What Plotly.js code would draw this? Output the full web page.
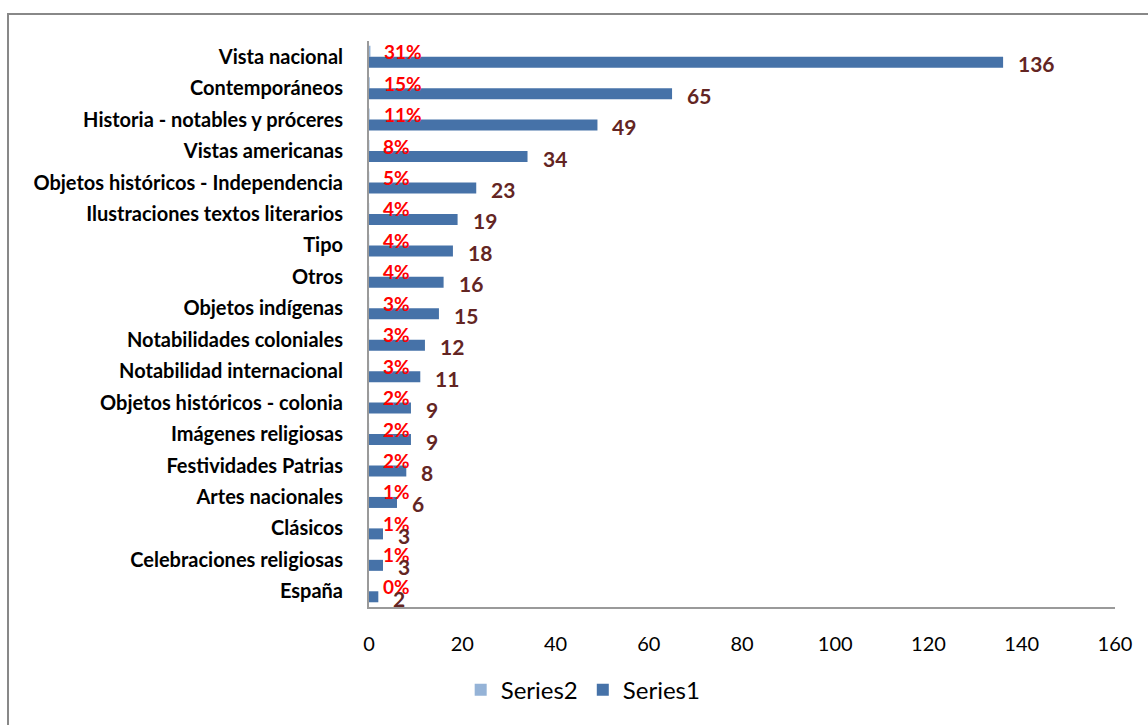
<!DOCTYPE html>
<html>
<head>
<meta charset="utf-8">
<script src="https://cdn.plot.ly/plotly-3.0.1.min.js"></script>
<style>
  html, body { margin: 0; padding: 0; background: #fff; }
  #chart { width: 1148px; height: 725px; }
</style>
</head>
<body>
<div id="chart"></div>
<script>
// Categories, top to bottom
const categories = [
  "Vista nacional",
  "Contemporáneos",
  "Historia - notables y próceres",
  "Vistas americanas",
  "Objetos históricos - Independencia",
  "Ilustraciones textos literarios",
  "Tipo",
  "Otros",
  "Objetos indígenas",
  "Notabilidades coloniales",
  "Notabilidad internacional",
  "Objetos históricos - colonia",
  "Imágenes religiosas",
  "Festividades Patrias",
  "Artes nacionales",
  "Clásicos",
  "Celebraciones religiosas",
  "España"
];

// Series1: counts per category
const series1 = [136, 65, 49, 34, 23, 19, 18, 16, 15, 12, 11, 9, 9, 8, 6, 3, 3, 2];

// Series2: share of the total per category
const series2 = [0.31, 0.15, 0.11, 0.08, 0.05, 0.04, 0.04, 0.04, 0.03, 0.03, 0.03, 0.02, 0.02, 0.02, 0.01, 0.01, 0.01, 0.00];

const xTicks = [0, 20, 40, 60, 80, 100, 120, 140, 160];

const FONT = "Lato, 'Open Sans', sans-serif";

const traces = [
  {
    type: "bar",
    orientation: "h",
    name: "Series2",
    y: categories,
    x: series2,
    marker: { color: "#95B3D7" },
    hoverinfo: "skip"
  },
  {
    type: "bar",
    orientation: "h",
    name: "Series1",
    y: categories,
    x: series1,
    marker: { color: "#4672A8" },
    hoverinfo: "skip"
  }
];

// Percentage labels (red) beside the Series2 bars, count labels (brown) beside the Series1 bars
const annotations = [];
categories.forEach((c, i) => {
  annotations.push({
    x: series2[i], y: c, xref: "x", yref: "y",
    text: Math.round(series2[i] * 100) + "%",
    showarrow: false, xanchor: "left", yanchor: "middle",
    xshift: 12, yshift: 5,
    font: { family: FONT, size: 19, color: "#FF0000", weight: "bold" }
  });
  annotations.push({
    x: series1[i], y: c, xref: "x", yref: "y",
    text: String(series1[i]),
    showarrow: false, xanchor: "left", yanchor: "middle",
    xshift: 13, yshift: -7,
    font: { family: FONT, size: 21, color: "#632523", weight: "bold" }
  });
});

const layout = {
  width: 1148,
  height: 725,
  margin: { l: 369, r: 33, t: 41, b: 118, autoexpand: false },
  paper_bgcolor: "#ffffff",
  plot_bgcolor: "#ffffff",
  barmode: "group",
  bargap: 0.3,
  bargroupgap: 0,
  showlegend: true,
  legend: {
    orientation: "h",
    xref: "container", yref: "container",
    x: 0.508, xanchor: "center",
    y: 0.048, yanchor: "middle",
    font: { family: FONT, size: 24, color: "#000" },
    itemwidth: 30
  },
  xaxis: {
    range: [0, 160],
    autorange: false,
    tickvals: xTicks,
    ticktext: xTicks.map(String),
    showgrid: false,
    zeroline: false,
    showline: true,
    linecolor: "#9a9a9a",
    linewidth: 2,
    ticks: "",
    ticklabelstandoff: 18,
    tickfont: { family: FONT, size: 20, color: "#000" },
    automargin: false,
    fixedrange: true
  },
  yaxis: {
    type: "category",
    categoryorder: "array",
    categoryarray: categories,
    range: [categories.length - 0.5, -0.5],
    autorange: false,
    showgrid: false,
    zeroline: false,
    showline: true,
    linecolor: "#9a9a9a",
    linewidth: 2,
    ticks: "",
    ticklabelstandoff: 20,
    tickfont: { family: FONT, size: 20, color: "#000", weight: "bold" },
    automargin: false,
    fixedrange: true
  },
  annotations: annotations,
  shapes: [
    {
      type: "rect", xref: "paper", yref: "paper",
      x0: -0.4839, x1: 1.07, y0: -0.25, y1: 1.0477,
      line: { color: "#888888", width: 2 },
      fillcolor: "rgba(0,0,0,0)",
      layer: "below"
    }
  ],
  font: { family: FONT }
};

Plotly.newPlot("chart", traces, layout, { displayModeBar: false, staticPlot: true });
</script>
</body>
</html>
